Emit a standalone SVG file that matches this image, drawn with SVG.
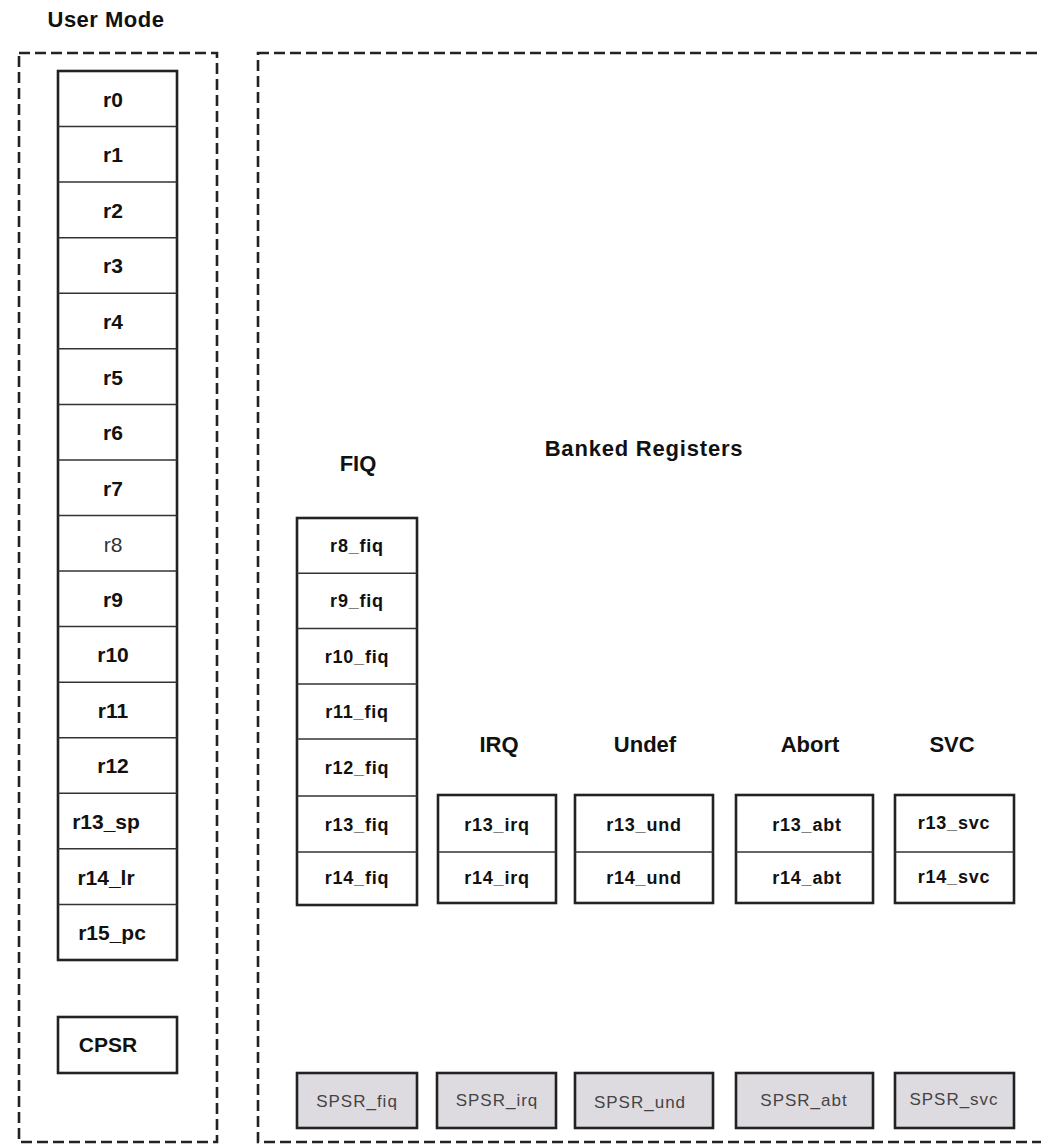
<svg xmlns="http://www.w3.org/2000/svg" width="1041" height="1145" viewBox="0 0 1041 1145">
<style>
.dash{fill:none;stroke:#222;stroke-width:2.6;stroke-dasharray:11 5}
.box{fill:#fff;stroke:#222;stroke-width:2.6}
.div{stroke:#333;stroke-width:1.5}
.sp{fill:#dedbe0;stroke:#222;stroke-width:2.6}
.t{font-family:"Liberation Sans",Arial,sans-serif;font-weight:bold;fill:#111;text-anchor:middle}
.reg{font-size:21px}
.lab{font-size:22px}
.small{font-size:18px;letter-spacing:0.8px}
.spt{font-family:"Liberation Sans",Arial,sans-serif;font-size:17px;letter-spacing:1px;fill:#444;text-anchor:middle}
</style>
<rect width="1041" height="1145" fill="#fff"/>
<text class="t lab" x="106" y="27" style="letter-spacing:0.5px">User Mode</text>
<g id="user-mode-frame"><rect class="dash" x="19" y="53" width="198" height="1089"/></g>
<g id="banked-frame"><rect class="dash" x="258" y="53" width="800" height="1089"/></g>
<g id="user-registers">
<rect class="box" x="58" y="71" width="119" height="889"/>
<g class="div">
<line x1="58" x2="177" y1="126.6" y2="126.6"/><line x1="58" x2="177" y1="182.1" y2="182.1"/>
<line x1="58" x2="177" y1="237.7" y2="237.7"/><line x1="58" x2="177" y1="293.2" y2="293.2"/>
<line x1="58" x2="177" y1="348.8" y2="348.8"/><line x1="58" x2="177" y1="404.4" y2="404.4"/>
<line x1="58" x2="177" y1="459.9" y2="459.9"/><line x1="58" x2="177" y1="515.5" y2="515.5"/>
<line x1="58" x2="177" y1="571" y2="571"/><line x1="58" x2="177" y1="626.6" y2="626.6"/>
<line x1="58" x2="177" y1="682.2" y2="682.2"/><line x1="58" x2="177" y1="737.7" y2="737.7"/>
<line x1="58" x2="177" y1="793.3" y2="793.3"/><line x1="58" x2="177" y1="848.8" y2="848.8"/>
<line x1="58" x2="177" y1="904.4" y2="904.4"/>
</g>
<text class="t reg" x="113" y="107">r0</text>
<text class="t reg" x="113" y="162">r1</text>
<text class="t reg" x="113" y="218">r2</text>
<text class="t reg" x="113" y="273">r3</text>
<text class="t reg" x="113" y="329">r4</text>
<text class="t reg" x="113" y="385">r5</text>
<text class="t reg" x="113" y="440">r6</text>
<text class="t reg" x="113" y="496">r7</text>
<text class="t reg" x="113" y="552" style="font-weight:normal;fill:#333">r8</text>
<text class="t reg" x="113" y="607">r9</text>
<text class="t reg" x="113" y="662">r10</text>
<text class="t reg" x="113" y="718">r11</text>
<text class="t reg" x="113" y="773">r12</text>
<text class="t reg" x="106" y="829">r13_sp</text>
<text class="t reg" x="106" y="885">r14_lr</text>
<text class="t reg" x="112" y="940">r15_pc</text>
</g>
<g id="cpsr"><rect class="box" x="58" y="1017" width="119" height="56"/><text class="t reg" x="108" y="1052">CPSR</text></g>
<text class="t lab" x="644" y="456" style="letter-spacing:0.8px">Banked Registers</text>
<g id="fiq">
<text class="t lab" x="358" y="471">FIQ</text>
<rect class="box" x="297" y="518" width="120" height="387"/>
<g class="div">
<line x1="297" x2="417" y1="573.3" y2="573.3"/><line x1="297" x2="417" y1="628.6" y2="628.6"/>
<line x1="297" x2="417" y1="683.9" y2="683.9"/><line x1="297" x2="417" y1="739.1" y2="739.1"/>
<line x1="297" x2="417" y1="796" y2="796"/><line x1="297" x2="417" y1="852" y2="852"/>
</g>
<text class="t small" x="357" y="552">r8_fiq</text>
<text class="t small" x="357" y="607">r9_fiq</text>
<text class="t small" x="357" y="663">r10_fiq</text>
<text class="t small" x="357" y="718">r11_fiq</text>
<text class="t small" x="357" y="774">r12_fiq</text>
<text class="t small" x="357" y="831">r13_fiq</text>
<text class="t small" x="357" y="884">r14_fiq</text>
</g>
<g id="irq">
<text class="t lab" x="499" y="752">IRQ</text>
<rect class="box" x="438" y="795" width="118" height="108"/>
<line class="div" x1="438" x2="556" y1="852" y2="852"/>
<text class="t small" x="497" y="831">r13_irq</text>
<text class="t small" x="497" y="884">r14_irq</text>
</g>
<g id="undef">
<text class="t lab" x="645" y="752">Undef</text>
<rect class="box" x="575" y="795" width="138" height="108"/>
<line class="div" x1="575" x2="713" y1="852" y2="852"/>
<text class="t small" x="644" y="831">r13_und</text>
<text class="t small" x="644" y="884">r14_und</text>
</g>
<g id="abort">
<text class="t lab" x="810" y="752">Abort</text>
<rect class="box" x="736" y="795" width="137" height="108"/>
<line class="div" x1="736" x2="873" y1="852" y2="852"/>
<text class="t small" x="807" y="831">r13_abt</text>
<text class="t small" x="807" y="884">r14_abt</text>
</g>
<g id="svc">
<text class="t lab" x="952" y="752">SVC</text>
<rect class="box" x="895" y="795" width="119" height="108"/>
<line class="div" x1="895" x2="1014" y1="852" y2="852"/>
<text class="t small" x="954" y="829">r13_svc</text>
<text class="t small" x="954" y="883">r14_svc</text>
</g>
<g id="spsr">
<g id="spsr-fiq"><rect class="sp" x="297" y="1073" width="120" height="55"/><text class="spt" x="357" y="1107">SPSR_fiq</text></g>
<g id="spsr-irq"><rect class="sp" x="437" y="1073" width="119" height="55"/><text class="spt" x="497" y="1106">SPSR_irq</text></g>
<g id="spsr-und"><rect class="sp" x="575" y="1073" width="138" height="55"/><text class="spt" x="640" y="1108">SPSR_und</text></g>
<g id="spsr-abt"><rect class="sp" x="736" y="1073" width="137" height="55"/><text class="spt" x="804" y="1106">SPSR_abt</text></g>
<g id="spsr-svc"><rect class="sp" x="895" y="1073" width="119" height="55"/><text class="spt" x="954" y="1105">SPSR_svc</text></g>
</g>
<g id="connectors"/>
</svg>
